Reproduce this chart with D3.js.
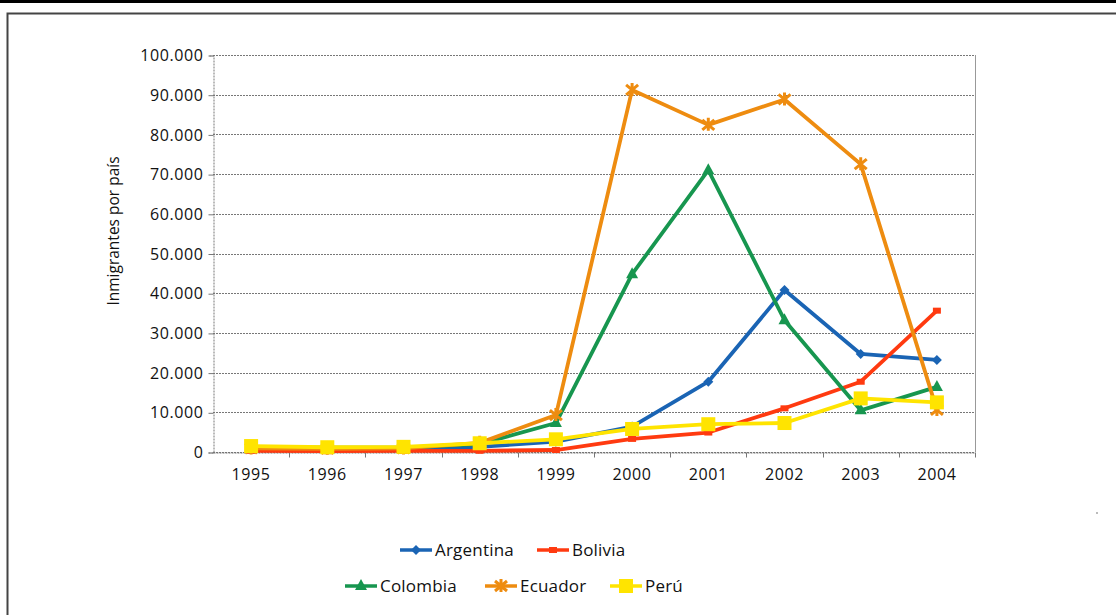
<!DOCTYPE html>
<html><head><meta charset="utf-8">
<script src="https://cdn.jsdelivr.net/npm/d3@7/dist/d3.min.js"></script>
<style>
html,body{margin:0;padding:0;background:#fff;}
svg{display:block;}
text{font-family:"Open Sans","DejaVu Sans",sans-serif;fill:#111;}
</style></head>
<body>
<svg id="c" width="1116" height="615"></svg>
<script>
const years = ["1995","1996","1997","1998","1999","2000","2001","2002","2003","2004"];
const argentina = [800, 700, 800, 1300, 2600, 6400, 17700, 40800, 24700, 23200];
const bolivia   = [300, 200, 300, 300, 500, 3300, 4900, 11000, 17700, 35600];
const colombia  = [1200, 1100, 1100, 2000, 7300, 44800, 71000, 33200, 10500, 16400];
const ecuador   = [900, 800, 900, 2300, 9300, 91200, 82400, 88800, 72500, 10600];
const peru      = [1500, 1200, 1300, 2200, 3200, 5800, 7000, 7300, 13500, 12500];
const yTicks = [0,10000,20000,30000,40000,50000,60000,70000,80000,90000,100000];
const yTickLabels = ["0","10.000","20.000","30.000","40.000","50.000","60.000","70.000","80.000","90.000","100.000"];
const seriesNames = ["Argentina","Bolivia","Colombia","Ecuador","Perú"];
const seriesValues = [argentina, bolivia, colombia, ecuador, peru];
const seriesColors = ["#1a64b4","#ff3a10","#17964f","#ee8c10","#ffe400"];
const seriesMarkers = ["diamond","dash","triangle","star","square"];

const svg = d3.select("#c");
// page decoration
svg.append("rect").attr("x",0).attr("y",0).attr("width",1116).attr("height",3).attr("fill","#000");
svg.append("path").attr("d","M7.5,615 V13.5 H1116").attr("fill","none").attr("stroke","#444").attr("stroke-width",2);
svg.append("rect").attr("x",1096).attr("y",512).attr("width",2).attr("height",2).attr("fill","#bbb");

const L=213, R=975, T=55, B=452;
const x = d3.scaleBand().domain(years).range([L,R]);
const y = d3.scaleLinear().domain([0,100000]).range([B,T]);

// gridlines
svg.append("g").selectAll("line").data(yTicks).join("line")
  .attr("x1",L).attr("x2",R).attr("y1",d=>Math.round(y(d))+0.5).attr("y2",d=>Math.round(y(d))+0.5)
  .attr("stroke","#777").attr("stroke-width",1).attr("stroke-dasharray","2,1");
// right border
svg.append("line").attr("x1",R+0.5).attr("x2",R+0.5).attr("y1",T).attr("y2",B).attr("stroke","#999");

// y axis
const yAxis = d3.axisLeft(y).tickValues(yTicks).tickFormat((d,i)=>yTickLabels[i]).tickSize(5).tickPadding(5);
const gy = svg.append("g").attr("transform",`translate(${L+0.5},0.5)`).call(yAxis);
gy.select(".domain").attr("stroke","#777").attr("stroke-dasharray","2,1");
gy.selectAll(".tick line").attr("stroke","#777");
gy.selectAll("text").style("font-size","16px").attr("fill","#111").style("letter-spacing","0.6px");

// x axis
const xAxis = d3.axisBottom(x).tickSize(0).tickPadding(16);
const gx = svg.append("g").attr("transform",`translate(0,${B+0.5})`).call(xAxis);
gx.select(".domain").attr("stroke","#777").attr("stroke-dasharray","2,1");
gx.selectAll("text").style("font-size","16px").attr("fill","#111").style("letter-spacing","0.6px");
gx.selectAll(".sep").data(years.slice(1).concat(["end"])).join("line")
  .attr("x1",(d,i)=>Math.round(L+x.step()*(i+1))+0.5).attr("x2",(d,i)=>Math.round(L+x.step()*(i+1))+0.5)
  .attr("y1",0).attr("y2",5).attr("stroke","#777");

// y label
svg.append("text").attr("transform","translate(119,231) rotate(-90)").attr("text-anchor","middle")
  .style("font-size","15.5px").text("Inmigrantes por país");

function marker(g, type, color, cx, cy){
  if(type==="diamond"){
    g.append("path").attr("d",`M${cx},${cy-5}L${cx+5},${cy}L${cx},${cy+5}L${cx-5},${cy}Z`).attr("fill",color);
  } else if(type==="dash"){
    g.append("rect").attr("x",cx-4).attr("y",cy-3).attr("width",8).attr("height",6).attr("fill",color);
  } else if(type==="triangle"){
    g.append("path").attr("d",`M${cx},${cy-7}L${cx+6},${cy+4}L${cx-6},${cy+4}Z`).attr("fill",color);
  } else if(type==="star"){
    g.append("path").attr("d",`M${cx-6},${cy-5}L${cx+6},${cy+5}M${cx+6},${cy-5}L${cx-6},${cy+5}M${cx},${cy-7}V${cy+6}`)
      .attr("stroke",color).attr("stroke-width",3);
  } else if(type==="square"){
    g.append("rect").attr("x",cx-7).attr("y",cy-7).attr("width",14).attr("height",14).attr("fill",color);
  }
}

const line = d3.line().x((d,i)=>x(years[i])+x.bandwidth()/2).y(d=>y(d));
seriesValues.forEach((vals,si)=>{
  const g = svg.append("g");
  g.append("path").datum(vals).attr("d",line).attr("fill","none")
    .attr("stroke",seriesColors[si]).attr("stroke-width",3.8).attr("stroke-linejoin","round");
  vals.forEach((v,i)=>marker(g, seriesMarkers[si], seriesColors[si], x(years[i])+x.bandwidth()/2, y(v)));
});

// legend
const legendItems = [
  {i:0, lx:400, ty:550},{i:1, lx:537, ty:550},
  {i:2, lx:345, ty:586},{i:3, lx:485, ty:586},{i:4, lx:610, ty:586}
];
legendItems.forEach(it=>{
  const g = svg.append("g");
  g.append("line").attr("x1",it.lx).attr("x2",it.lx+32).attr("y1",it.ty).attr("y2",it.ty)
    .attr("stroke",seriesColors[it.i]).attr("stroke-width",3.5);
  marker(g, seriesMarkers[it.i], seriesColors[it.i], it.lx+16, it.ty);
  g.append("text").attr("x",it.lx+35).attr("y",it.ty+6).style("font-size","17px").style("letter-spacing","0.2px").text(seriesNames[it.i]);
});
</script>
</body></html>
